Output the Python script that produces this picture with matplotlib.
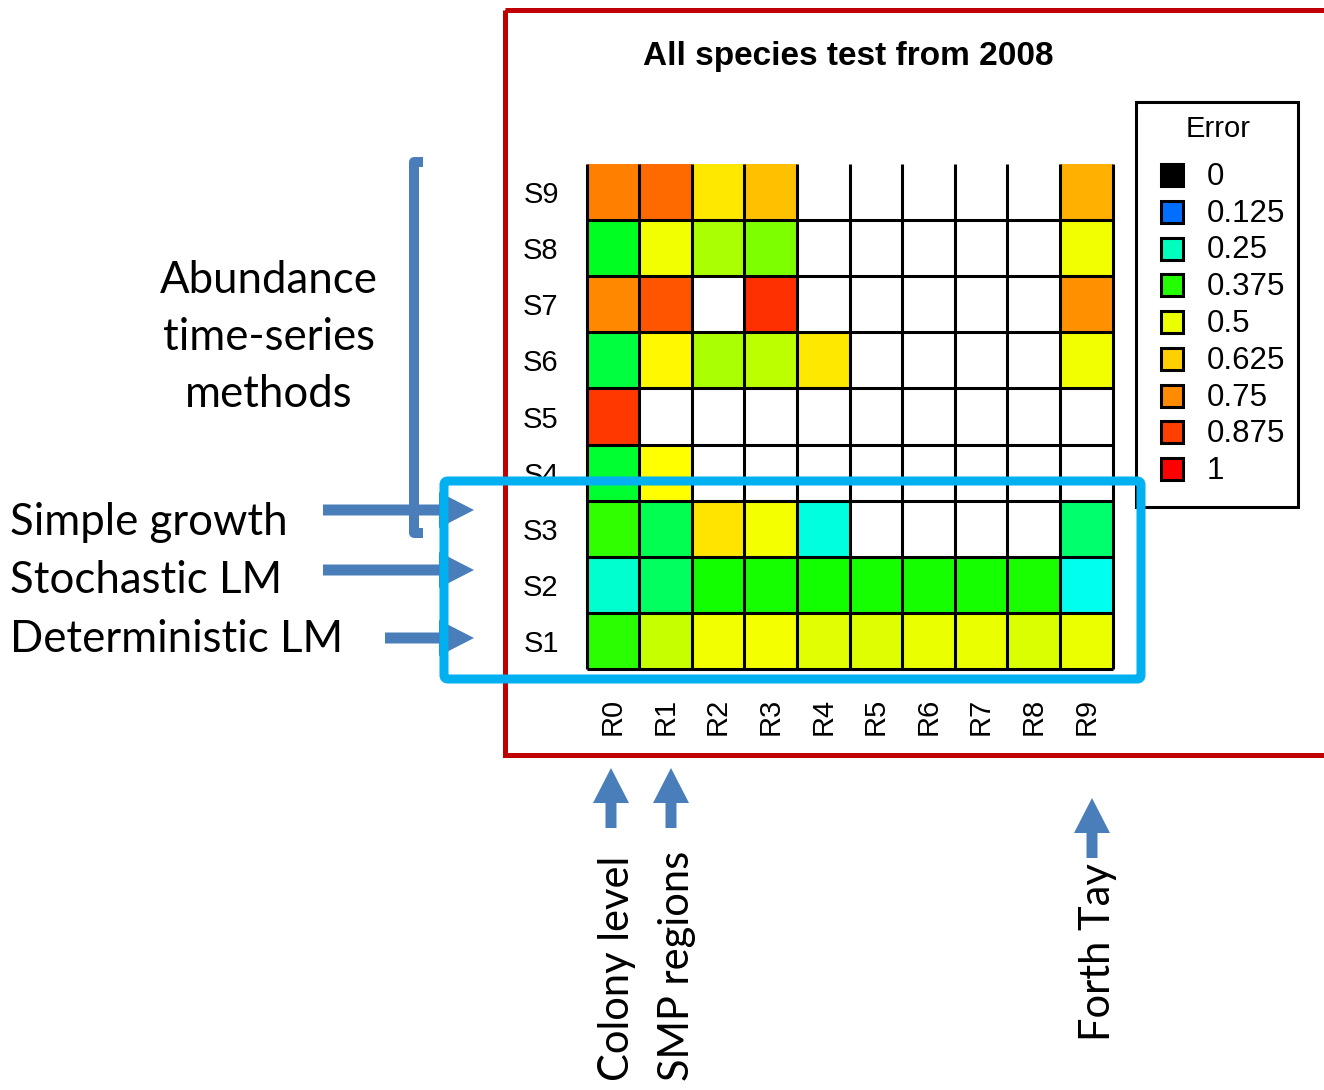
import numpy as np
import matplotlib
matplotlib.use("Agg")
import matplotlib.pyplot as plt
import matplotlib.colors as mcolors
from matplotlib.patches import Rectangle, FancyArrow, FancyBboxPatch


#%%
# error of each method (S1..S9) in each region set (R0..R9), nan = not run
colLabels = ["R0", "R1", "R2", "R3", "R4", "R5", "R6", "R7", "R8", "R9"]
rowLabels = ["S1", "S2", "S3", "S4", "S5", "S6", "S7", "S8", "S9"]
nan = np.nan
errS1 = [0.380, 0.477, 0.512, 0.519, 0.496, 0.494, 0.500, 0.500, 0.489, 0.505]
errS2 = [0.242, 0.303, 0.366, 0.368, 0.367, 0.368, 0.368, 0.369, 0.370, 0.222]
errS3 = [0.384, 0.311, 0.589, 0.519, 0.232, nan, nan, nan, nan, 0.295]
errS4 = [0.330, 0.539, nan, nan, nan, nan, nan, nan, nan, nan]
errS5 = [0.890, nan, nan, nan, nan, nan, nan, nan, nan, nan]
errS6 = [0.321, 0.552, 0.460, 0.471, 0.581, nan, nan, nan, nan, 0.512]
errS7 = [0.757, 0.840, nan, 0.906, nan, nan, nan, nan, nan, 0.743]
errS8 = [0.338, 0.512, 0.460, 0.433, nan, nan, nan, nan, nan, 0.512]
errS9 = [0.771, 0.806, 0.581, 0.656, nan, nan, nan, nan, nan, 0.684]

legendLevels = [0.0, 0.125, 0.25, 0.375, 0.5, 0.625, 0.75, 0.875, 1.0]
legendLabels = ["0", "0.125", "0.25", "0.375", "0.5", "0.625", "0.75", "0.875", "1"]

title = "All species test from 2008"

W, H = 1324, 1090
BLUE = "#4A7EBB"
CYAN = "#00B0F0"
RED = "#C00000"
NOTEFONT = 31.5


#%%
def makeCmap():
    # black -> blue, then hue sweep blue -> aqua -> green -> yellow -> orange -> red
    knots = [0.125, 0.25, 0.375, 0.5, 0.625, 0.75, 0.875, 1.0]
    hues = [214, 165, 112, 65, 49, 33, 15, 0]
    cols = []
    for v in np.linspace(0, 1, 512):
        if v < 0.125:
            cols.append(mcolors.hsv_to_rgb([214/360, 1, v/0.125]))
        else:
            h = np.interp(v, knots, hues)
            cols.append(mcolors.hsv_to_rgb([h/360, 1, 1]))
    cmap = mcolors.ListedColormap(cols)
    cmap.set_bad("white")
    return cmap


def plotHeat(fig, cmap):
    # axes box in pixels: x 586..1113, y 164..669
    ax = fig.add_axes([586.5/W, 1-669/H, 526/W, 505/H])
    data = np.ma.masked_invalid(np.array([errS1, errS2, errS3, errS4, errS5,
                                          errS6, errS7, errS8, errS9]))
    ax.pcolormesh(np.arange(11), np.arange(10), data, cmap=cmap, vmin=0, vmax=1)
    ax.vlines(np.arange(11), 0, 9, color="black", lw=2.2, clip_on=False)
    ax.hlines(np.arange(9), 0, 10, color="black", lw=2.2, clip_on=False)
    ax.set_xlim(0, 10)
    ax.set_ylim(0, 9)
    ax.set_xticks(np.arange(10)+0.5)
    ax.set_xticklabels(colLabels, rotation=90, fontsize=21)
    ax.set_yticks(np.arange(9)+0.5)
    ax.set_yticklabels(rowLabels, fontsize=21)
    ax.tick_params(length=0)
    ax.tick_params(axis="x", pad=21)
    ax.tick_params(axis="y", pad=20)
    for s in ax.spines.values():
        s.set_visible(False)
    return ax


def plotLegend(ov, cmap):
    ov.add_patch(Rectangle((1136, 102), 162, 405, fill=False, ec="black", lw=2.2, zorder=3))
    ov.text(1218, 129, "Error", ha="center", va="center", fontsize=21)
    ys = np.linspace(175, 469, len(legendLevels))
    for lev, lab, y in zip(legendLevels, legendLabels, ys):
        ov.add_patch(Rectangle((1161, y-11), 22, 22, fc=cmap(float(lev)), ec="black", lw=2.2, zorder=3))
        ov.text(1207, y+2, lab, ha="left", va="center", fontsize=22.5)


def arrow(ov, x, y, dx, dy):
    ov.add_patch(FancyArrow(x, y, dx, dy, width=11, head_width=36, head_length=35,
                            length_includes_head=True, color=BLUE, lw=0, zorder=4))


def plotNotes(ov):
    # frame round the R chart, right side runs off the page
    ov.add_patch(Rectangle((505, 10), 1000, 745, fill=False, ec=RED, lw=3.6, zorder=2))
    ov.text(848, 56, title, ha="center", va="center", fontsize=24, fontweight="bold")

    # bracket for the time-series methods
    ov.plot([423, 413.5, 413.5, 423], [162, 162, 533, 533], color=BLUE, lw=7.2,
            solid_joinstyle="round", solid_capstyle="butt", zorder=4)
    for txt, yb in zip(["Abundance", "time-series", "methods"], [293, 350, 407]):
        ov.text(269, yb, txt, ha="center", va="baseline", fontsize=NOTEFONT, family="Lato")

    for txt, yb, yArr, x0 in [("Simple growth", 535, 510, 323),
                              ("Stochastic LM", 593, 570, 323),
                              ("Deterministic LM", 652, 638, 385)]:
        ov.text(10, yb, txt, ha="left", va="baseline", fontsize=NOTEFONT, family="Lato")
        arrow(ov, x0, yArr, 474-x0, 0)

    # region set arrows under the x axis
    for xa, y0, y1, txt, ytxt in [(611, 828, 768, "Colony level", 856),
                                  (671, 828, 768, "SMP regions", 851),
                                  (1092, 858, 798, "Forth Tay", 863)]:
        arrow(ov, xa, y0, 0, y1-y0)
        ov.text(xa+6, ytxt, txt, rotation=90, ha="center", va="top", fontsize=30, family="Lato")

    # highlight box for the population-model rows
    ov.add_patch(FancyBboxPatch((444, 481), 697, 198, boxstyle="round,pad=0,rounding_size=4",
                                fill=False, ec=CYAN, lw=6.5, zorder=5))


#%%
plt.rcParams["font.family"] = ["Liberation Sans", "DejaVu Sans"]
fig = plt.figure(figsize=(W/100, H/100), dpi=100, facecolor="white")
cmap = makeCmap()
plotHeat(fig, cmap)

ov = fig.add_axes([0, 0, 1, 1], zorder=5)
ov.set_xlim(0, W)
ov.set_ylim(H, 0)
ov.axis("off")
ov.patch.set_alpha(0)
plotLegend(ov, cmap)
plotNotes(ov)

fig.savefig("out.png", dpi=100, facecolor="white")
